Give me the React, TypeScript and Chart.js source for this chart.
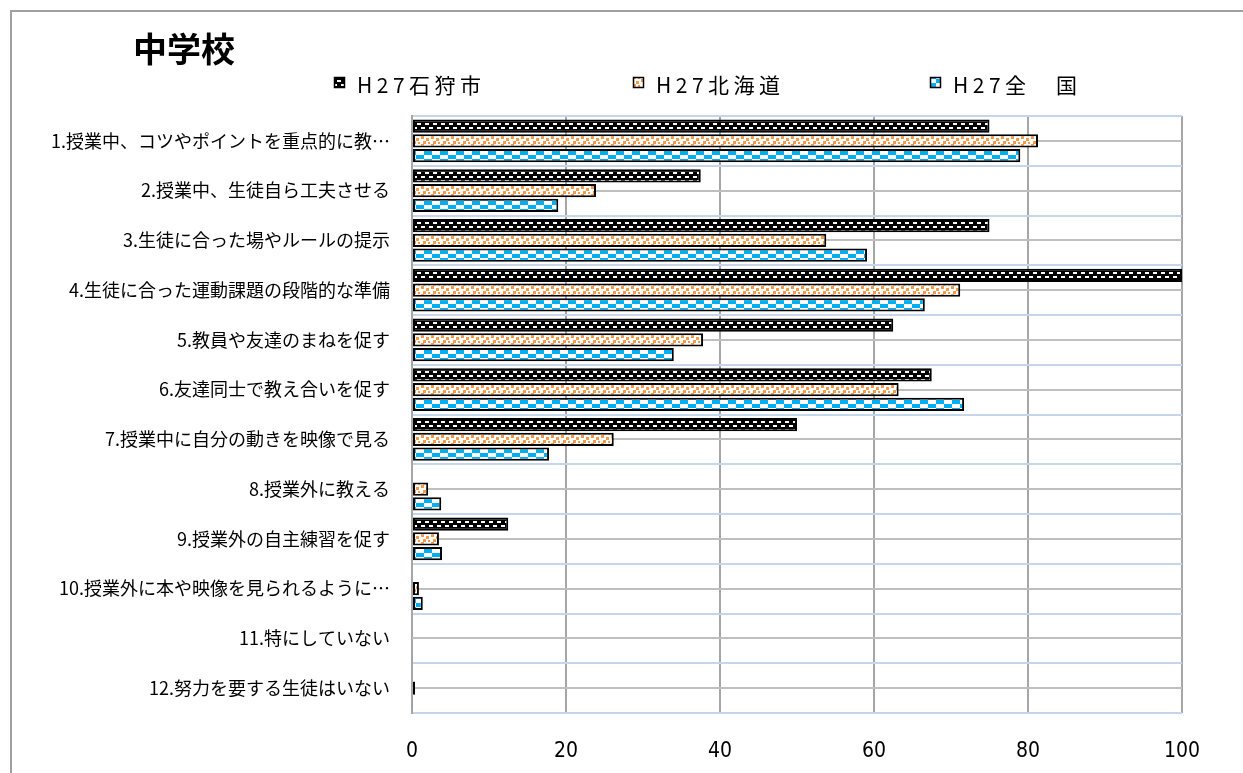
import React, { useEffect, useRef } from "react";
import { Chart, registerables } from "chart.js";

Chart.register(...registerables);

const titleText = "中学校";
const categories = [
  "1.授業中、コツやポイントを重点的に教…",
  "2.授業中、生徒自ら工夫させる",
  "3.生徒に合った場やルールの提示",
  "4.生徒に合った運動課題の段階的な準備",
  "5.教員や友達のまねを促す",
  "6.友達同士で教え合いを促す",
  "7.授業中に自分の動きを映像で見る",
  "8.授業外に教える",
  "9.授業外の自主練習を促す",
  "10.授業外に本や映像を見られるように…",
  "11.特にしていない",
  "12.努力を要する生徒はいない",
];
const seriesNames = ["H27石狩市", "H27北海道", "H27全　国"];
const ishikari = [75, 37.5, 75, 100, 62.5, 67.5, 50, 0, 12.5, 0, 0, 0];
const hokkaido = [81.3, 23.9, 53.8, 71.2, 37.8, 63.2, 26.2, 2.1, 3.5, 0.9, 0, 0.4];
const zenkoku = [79.0, 19.0, 59.1, 66.6, 34.0, 71.7, 17.8, 3.8, 3.9, 1.4, 0, 0.1];
const xTickMin = 0;
const xTickMax = 100;
const xTickStep = 20;

const CAT_PCT = 0.885;
const BAR_PCT = 0.9;

function makeTile(kind: number): HTMLCanvasElement {
  const c = document.createElement("canvas");
  const g = c.getContext("2d")!;
  if (kind === 0) {
    c.width = 8;
    c.height = 8;
    g.fillStyle = "#000";
    g.fillRect(0, 0, 8, 8);
    g.fillStyle = "#fff";
    g.fillRect(1, 1, 4, 2);
    g.fillRect(5, 5, 3, 2);
    g.fillRect(0, 5, 1, 2);
  } else if (kind === 1) {
    c.width = 10;
    c.height = 8;
    g.fillStyle = "#fff";
    g.fillRect(0, 0, 10, 8);
    g.fillStyle = "#f59a4a";
    g.fillRect(1, 0, 3, 3);
    g.fillRect(6, 2, 3, 3);
    g.fillRect(3, 5, 3, 3);
    g.fillRect(8, 6, 2, 2);
  } else {
    c.width = 16;
    c.height = 8;
    g.fillStyle = "#fff";
    g.fillRect(0, 0, 16, 8);
    g.fillStyle = "#00b0f0";
    g.fillRect(0, 4, 8, 4);
    g.fillRect(8, 0, 8, 4);
  }
  return c;
}

export default function App() {
  const ref = useRef<HTMLCanvasElement | null>(null);

  useEffect(() => {
    const canvas = ref.current;
    if (!canvas) return;
    document.body.style.overflow = "hidden";
    const tiles = [makeTile(0), makeTile(1), makeTile(2)];
    const ctx2d = canvas.getContext("2d")!;
    const patterns = tiles.map((t) => ctx2d.createPattern(t, "repeat")!);

    const patternAt = (ds: number, y: number) => {
      const p = ctx2d.createPattern(tiles[ds], "repeat")!;
      p.setTransform(new DOMMatrix().translate(0, y));
      return p;
    };

    const bg = (ds: number) => (c: any) => {
      const chart = c.chart;
      const ys = chart.scales && chart.scales.y;
      if (c.dataIndex === undefined || !ys) return patterns[ds];
      const center = ys.getPixelForValue(c.dataIndex);
      const cat = (ys.bottom - ys.top) / categories.length;
      const slot = (cat * CAT_PCT) / 3;
      const th = slot * BAR_PCT;
      const top = center + (ds - 1) * slot - th / 2;
      return patternAt(ds, Math.round(top) + 2);
    };

    const decor = {
      id: "decor",
      beforeDraw(chart: any) {
        const g = chart.ctx;
        g.save();
        g.fillStyle = "#fff";
        g.fillRect(0, 0, chart.width, chart.height);
        g.strokeStyle = "#a0a0a0";
        g.lineWidth = 2;
        g.beginPath();
        g.moveTo(11, chart.height + 5);
        g.lineTo(11, 11);
        g.lineTo(chart.width + 5, 11);
        g.stroke();
        g.restore();
      },
      beforeDatasetsDraw(chart: any) {
        const g = chart.ctx;
        const ys = chart.scales.y;
        const area = chart.chartArea;
        g.save();
        g.strokeStyle = "#bfbfbf";
        g.lineWidth = 2;
        for (let i = 0; i < categories.length; i++) {
          const y = Math.round(ys.getPixelForValue(i));
          g.beginPath();
          g.moveTo(area.left, y);
          g.lineTo(area.right, y);
          g.stroke();
        }
        g.restore();
      },
      afterDraw(chart: any) {
        const g = chart.ctx;
        g.save();
        g.fillStyle = "#000";
        g.font = 'bold 34px "Noto Sans CJK JP", sans-serif';
        g.textBaseline = "middle";
        g.textAlign = "left";
        g.fillText(titleText, 133, 49);

        const boxX = [334, 633, 930];
        g.font = '21px "Noto Sans CJK JP", sans-serif';
        (g as any).letterSpacing = "4.5px";
        for (let i = 0; i < 3; i++) {
          const p = patternAt(i, 79);
          g.fillStyle = p;
          g.fillRect(boxX[i], 77, 11, 11);
          g.strokeStyle = "#000";
          g.lineWidth = 1.5;
          g.strokeRect(boxX[i] + 0.5, 77.5, 10, 10);
          g.fillStyle = "#000";
          g.fillText(seriesNames[i], boxX[i] + 23, 85);
        }
        g.restore();
      },
    };

    const chart = new Chart(canvas, {
      type: "bar",
      data: {
        labels: categories,
        datasets: [
          { label: seriesNames[0], data: ishikari, backgroundColor: bg(0) as any },
          { label: seriesNames[1], data: hokkaido, backgroundColor: bg(1) as any },
          { label: seriesNames[2], data: zenkoku, backgroundColor: bg(2) as any },
        ].map((d) => ({
          ...d,
          borderColor: "#000",
          borderWidth: 2,
          borderSkipped: false,
          categoryPercentage: CAT_PCT,
          barPercentage: BAR_PCT,
        })),
      },
      options: {
        indexAxis: "y",
        animation: false,
        responsive: false,
        devicePixelRatio: 1,
        layout: { padding: { left: 0, top: 116, right: 61, bottom: 0 } },
        plugins: {
          legend: { display: false },
          title: { display: false },
          tooltip: { enabled: false },
        },
        scales: {
          x: {
            min: xTickMin,
            max: xTickMax,
            ticks: {
              stepSize: xTickStep,
              color: "#000",
              padding: 26,
              font: { family: '"Liberation Sans Narrow", "DejaVu Sans Condensed", sans-serif', size: 21 },
            },
            grid: { color: "#a6a6a6", lineWidth: 2, drawTicks: false },
            border: { display: false },
            afterFit(scale: any) {
              scale.height = 60;
            },
          },
          y: {
            ticks: {
              color: "#000",
              padding: 22,
              font: { family: '"Noto Sans CJK JP", sans-serif', size: 18 },
            },
            grid: { color: "#c6d5ee", lineWidth: 2, drawTicks: false, offset: true },
            border: { display: true, color: "#a6a6a6", width: 2 },
            afterFit(scale: any) {
              scale.width = 412;
            },
          },
        },
      },
      plugins: [decor],
    });

    return () => {
      chart.destroy();
    };
  }, []);

  return (
    <canvas
      ref={ref}
      width={1243}
      height={773}
      style={{ position: "fixed", left: 0, top: 0, width: 1243, height: 773 }}
    />
  );
}
